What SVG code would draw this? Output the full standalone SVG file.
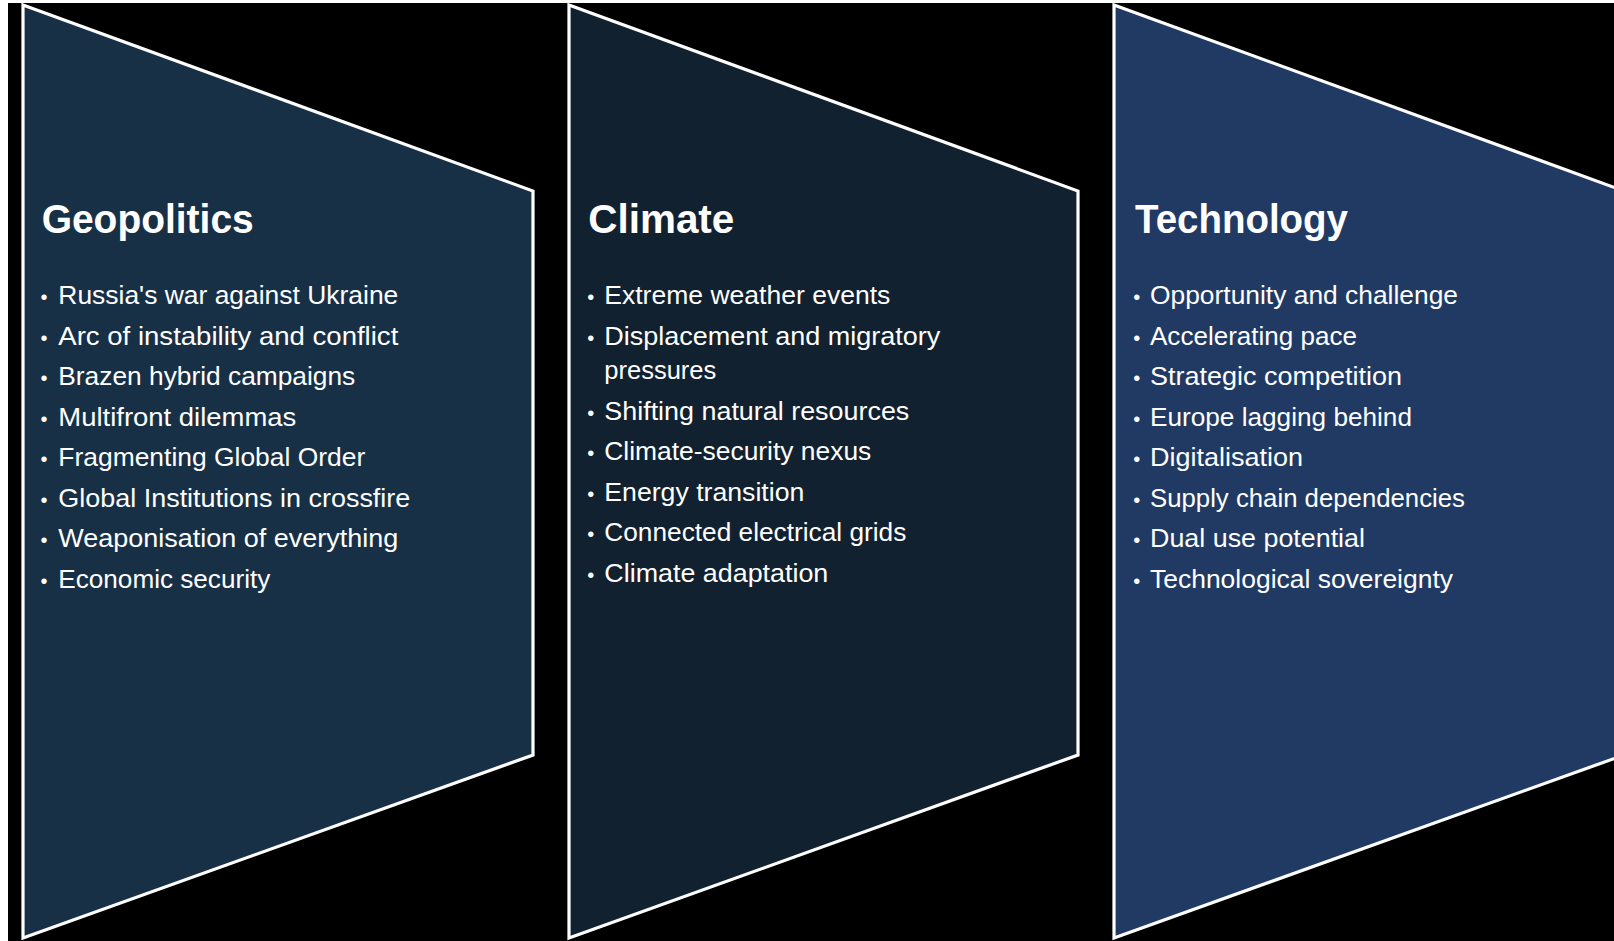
<svg xmlns="http://www.w3.org/2000/svg" width="1614" height="941" viewBox="0 0 1614 941">
<style>
.shape{stroke:#ffffff;stroke-width:3.2;stroke-linejoin:miter}
.geo{fill:#183046}
.cli{fill:#12212f}
.tec{fill:#213a64}
.title{font-family:"Liberation Sans",Arial,sans-serif;font-weight:bold;font-size:40px;fill:#ffffff}
.item{font-family:"Liberation Sans",Arial,sans-serif;font-size:26.5px;fill:#ffffff}
.bul{font-family:"Liberation Sans",Arial,sans-serif;font-size:20px;fill:#ffffff;text-anchor:middle}
</style>
<rect x="0" y="0" width="1614" height="941" fill="#ffffff"/>
<rect x="8" y="3" width="1606" height="938" fill="#000000"/>
<g id="connectors"></g>
<g id="geopolitics">
<polygon class="shape geo" points="23,5 533,191 533,755 23,938"/>
<text class="title" x="41.7" y="233" textLength="212" lengthAdjust="spacingAndGlyphs">Geopolitics</text>
<text class="bul" x="44" y="304">•</text><text class="item" x="58.3" y="304" textLength="340" lengthAdjust="spacingAndGlyphs">Russia's war against Ukraine</text>
<text class="bul" x="44" y="344.5">•</text><text class="item" x="58.3" y="344.5" textLength="340" lengthAdjust="spacingAndGlyphs">Arc of instability and conflict</text>
<text class="bul" x="44" y="385">•</text><text class="item" x="58.3" y="385" textLength="297" lengthAdjust="spacingAndGlyphs">Brazen hybrid campaigns</text>
<text class="bul" x="44" y="425.5">•</text><text class="item" x="58.3" y="425.5" textLength="238" lengthAdjust="spacingAndGlyphs">Multifront dilemmas</text>
<text class="bul" x="44" y="466">•</text><text class="item" x="58.3" y="466" textLength="307" lengthAdjust="spacingAndGlyphs">Fragmenting Global Order</text>
<text class="bul" x="44" y="506.5">•</text><text class="item" x="58.3" y="506.5" textLength="352" lengthAdjust="spacingAndGlyphs">Global Institutions in crossfire</text>
<text class="bul" x="44" y="547">•</text><text class="item" x="58.3" y="547" textLength="340" lengthAdjust="spacingAndGlyphs">Weaponisation of everything</text>
<text class="bul" x="44" y="587.5">•</text><text class="item" x="58.3" y="587.5" textLength="212" lengthAdjust="spacingAndGlyphs">Economic security</text>
</g>
<g id="climate">
<polygon class="shape cli" points="569,5 1078,191 1078,755 569,938"/>
<text class="title" x="588.3" y="233" textLength="146" lengthAdjust="spacingAndGlyphs">Climate</text>
<text class="bul" x="590.7" y="304">•</text><text class="item" x="604.3" y="304" textLength="286" lengthAdjust="spacingAndGlyphs">Extreme weather events</text>
<text class="bul" x="590.7" y="344.5">•</text><text class="item" x="604.3" y="344.5" textLength="336" lengthAdjust="spacingAndGlyphs">Displacement and migratory</text>
<text class="item" x="604.3" y="378.5" textLength="112" lengthAdjust="spacingAndGlyphs">pressures</text>
<text class="bul" x="590.7" y="419.5">•</text><text class="item" x="604.3" y="419.5" textLength="305" lengthAdjust="spacingAndGlyphs">Shifting natural resources</text>
<text class="bul" x="590.7" y="460">•</text><text class="item" x="604.3" y="460" textLength="267" lengthAdjust="spacingAndGlyphs">Climate-security nexus</text>
<text class="bul" x="590.7" y="500.5">•</text><text class="item" x="604.3" y="500.5" textLength="200" lengthAdjust="spacingAndGlyphs">Energy transition</text>
<text class="bul" x="590.7" y="541">•</text><text class="item" x="604.3" y="541" textLength="302" lengthAdjust="spacingAndGlyphs">Connected electrical grids</text>
<text class="bul" x="590.7" y="581.5">•</text><text class="item" x="604.3" y="581.5" textLength="224" lengthAdjust="spacingAndGlyphs">Climate adaptation</text>
</g>
<g id="technology">
<polygon class="shape tec" points="1114,5 1624,191 1624,755 1114,938"/>
<text class="title" x="1135" y="233" textLength="213" lengthAdjust="spacingAndGlyphs">Technology</text>
<text class="bul" x="1136.7" y="304">•</text><text class="item" x="1150" y="304" textLength="308" lengthAdjust="spacingAndGlyphs">Opportunity and challenge</text>
<text class="bul" x="1136.7" y="344.5">•</text><text class="item" x="1150" y="344.5" textLength="207" lengthAdjust="spacingAndGlyphs">Accelerating pace</text>
<text class="bul" x="1136.7" y="385">•</text><text class="item" x="1150" y="385" textLength="252" lengthAdjust="spacingAndGlyphs">Strategic competition</text>
<text class="bul" x="1136.7" y="425.5">•</text><text class="item" x="1150" y="425.5" textLength="262" lengthAdjust="spacingAndGlyphs">Europe lagging behind</text>
<text class="bul" x="1136.7" y="466">•</text><text class="item" x="1150" y="466" textLength="153" lengthAdjust="spacingAndGlyphs">Digitalisation</text>
<text class="bul" x="1136.7" y="506.5">•</text><text class="item" x="1150" y="506.5" textLength="315" lengthAdjust="spacingAndGlyphs">Supply chain dependencies</text>
<text class="bul" x="1136.7" y="547">•</text><text class="item" x="1150" y="547" textLength="215" lengthAdjust="spacingAndGlyphs">Dual use potential</text>
<text class="bul" x="1136.7" y="587.5">•</text><text class="item" x="1150" y="587.5" textLength="303" lengthAdjust="spacingAndGlyphs">Technological sovereignty</text>
</g>
</svg>
